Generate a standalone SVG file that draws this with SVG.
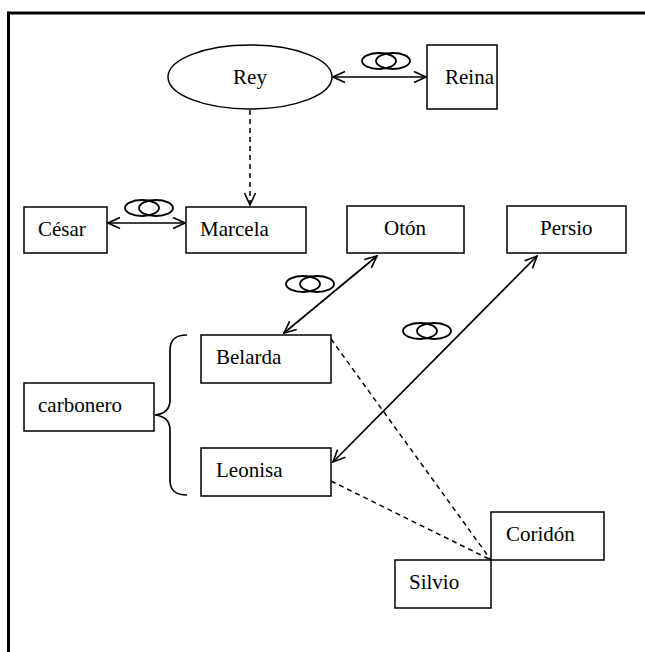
<svg xmlns="http://www.w3.org/2000/svg" width="645" height="652" viewBox="0 0 645 652">
  <style>
    .box { fill: #fff; stroke: #000; stroke-width: 1.5; }
    .lbl { font-family: "Liberation Serif", "Times New Roman", serif; font-size: 21px; fill: #000; }
    .link { fill: none; stroke: #000; stroke-width: 1.7; }
    .dash { fill: none; stroke: #000; stroke-width: 1.5; stroke-dasharray: 5 4; }
    .ring { fill: none; stroke: #000; stroke-width: 1.8; }
  </style>
  <defs>
    <marker id="arr" viewBox="0 0 14 14" refX="13" refY="7" markerWidth="14" markerHeight="14" markerUnits="userSpaceOnUse" orient="auto-start-reverse">
      <path d="M1,1.5 L13,7 L1,12.5" fill="none" stroke="#000" stroke-width="1.6"/>
    </marker>
    <g id="rings">
      <ellipse cx="-7" cy="0" rx="17" ry="8" class="ring"/>
      <ellipse cx="7" cy="0" rx="17" ry="8" class="ring"/>
    </g>
  </defs>

  <rect width="645" height="652" fill="#fff"/>
  <!-- frame (open to the right and bottom) -->
  <path d="M8.5,660 V13 H660" fill="none" stroke="#000" stroke-width="3"/>

  <g id="connectors">
    <line class="link" x1="333" y1="77" x2="426" y2="77" marker-start="url(#arr)" marker-end="url(#arr)"/>
    <use href="#rings" x="386" y="61"/>
    <line class="dash" x1="250" y1="110" x2="250" y2="205" marker-end="url(#arr)"/>
    <line class="link" x1="108" y1="223" x2="185" y2="223" marker-start="url(#arr)" marker-end="url(#arr)"/>
    <use href="#rings" x="149" y="208"/>
    <line class="link" x1="377" y1="256" x2="284" y2="333" marker-start="url(#arr)" marker-end="url(#arr)"/>
    <use href="#rings" x="310" y="284"/>
    <line class="link" x1="537" y1="256" x2="333" y2="462" marker-start="url(#arr)" marker-end="url(#arr)"/>
    <use href="#rings" x="427" y="331"/>
    <line class="dash" x1="331" y1="339" x2="491" y2="560"/>
    <line class="dash" x1="331" y1="481" x2="491" y2="560"/>
    <!-- brace grouping Belarda and Leonisa -->
    <path class="link" d="M187,335 C176,335 170,339 170,350 V400 C170,410 164,414 155,415 C164,416 170,420 170,430 V480 C170,491 176,495 187,495"/>
  </g>

  <g id="rey">
    <ellipse class="box" cx="250" cy="77" rx="82" ry="32"/>
    <text class="lbl" x="250" y="84" text-anchor="middle">Rey</text>
  </g>
  <g id="reina">
    <rect class="box" x="427" y="45" width="70" height="64"/>
    <text class="lbl" x="445" y="84">Reina</text>
  </g>
  <g id="cesar">
    <rect class="box" x="24" y="207" width="83" height="46"/>
    <text class="lbl" x="38" y="236">César</text>
  </g>
  <g id="marcela">
    <rect class="box" x="186" y="207" width="120" height="46"/>
    <text class="lbl" x="200" y="236">Marcela</text>
  </g>
  <g id="oton">
    <rect class="box" x="347" y="206" width="117" height="47"/>
    <text class="lbl" x="405" y="235" text-anchor="middle">Otón</text>
  </g>
  <g id="persio">
    <rect class="box" x="507" y="206" width="119" height="47"/>
    <text class="lbl" x="540" y="235">Persio</text>
  </g>
  <g id="belarda">
    <rect class="box" x="201" y="335" width="130" height="48"/>
    <text class="lbl" x="216" y="364">Belarda</text>
  </g>
  <g id="carbonero">
    <rect class="box" x="24" y="383" width="130" height="48"/>
    <text class="lbl" x="38" y="412">carbonero</text>
  </g>
  <g id="leonisa">
    <rect class="box" x="201" y="448" width="130" height="48"/>
    <text class="lbl" x="216" y="477">Leonisa</text>
  </g>
  <g id="coridon">
    <rect class="box" x="491" y="512" width="113" height="48"/>
    <text class="lbl" x="506" y="541">Coridón</text>
  </g>
  <g id="silvio">
    <rect class="box" x="395" y="560" width="96" height="48"/>
    <text class="lbl" x="409" y="589">Silvio</text>
  </g>
</svg>
